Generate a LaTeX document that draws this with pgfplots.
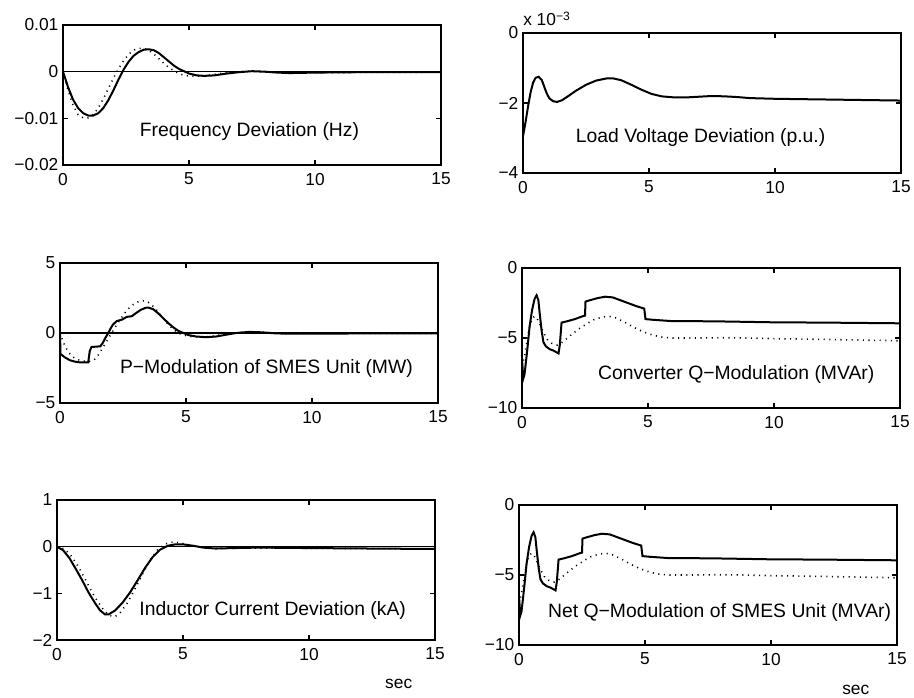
\documentclass[border=0pt]{standalone}
\usepackage{fontspec}
\setmainfont{Liberation Sans}
\usepackage{pgfplots}
\usepackage{pgfplotstable}
\pgfplotsset{compat=1.18}

% converter / net Q-modulation (MVAr), the two right-hand lower panels share them
\pgfplotstableread{
t q
0 -6.5
0.05 -7.9
0.1 -7.6
0.2 -6.0
0.3 -4.2
0.4 -3.0
0.5 -2.2
0.58 -1.95
0.65 -2.3
0.7 -3.2
0.78 -4.5
0.85 -5.3
0.95 -5.6
1.1 -5.8
1.25 -5.9
1.35 -6.0
1.45 -6.1
1.5 -5.5
1.57 -3.9
1.8 -3.8
2.1 -3.65
2.4 -3.45
2.5 -3.4
2.52 -2.4
2.7 -2.3
3.0 -2.15
3.3 -2.05
3.6 -2.1
3.9 -2.3
4.2 -2.5
4.5 -2.7
4.85 -2.9
4.9 -3.65
5.2 -3.7
6 -3.8
7 -3.8
8 -3.82
9 -3.85
10 -3.88
12 -3.9
15 -3.95
}\qsol
\pgfplotstableread{
t q
0 -7.0
0.1 -6.3
0.2 -5.2
0.3 -4.2
0.4 -3.6
0.5 -3.45
0.6 -3.6
0.7 -4.0
0.85 -4.6
1.0 -5.1
1.2 -5.4
1.4 -5.5
1.6 -5.3
1.8 -5.0
2.0 -4.7
2.3 -4.3
2.6 -3.95
2.9 -3.65
3.2 -3.5
3.45 -3.45
3.7 -3.55
4.0 -3.8
4.4 -4.2
4.8 -4.55
5.2 -4.8
5.6 -4.95
6 -5.0
7 -5.0
8 -4.98
9 -5.0
10 -5.05
12 -5.1
15 -5.2
}\qdot

\pgfplotsset{
  panel/.style={
    scale only axis, width=283.5pt, height=105pt,
    anchor=south west,
    xmin=0, xmax=15, xtick={0,5,10,15},
    scaled y ticks=false,
    tick align=inside, major tick length=3.5pt,
    axis line style={line width=1.1pt},
    tick style={line width=0.8pt, black},
    ticklabel style={font=\fontsize{13}{15}\selectfont},
    xticklabel style={yshift=-2.5pt},
    /pgf/number format/assume math mode=true,
    clip=false,
  },
  sol/.style={black, line width=1.5pt},
  dot/.style={black, line width=1.2pt, dash pattern=on 0.8pt off 3.4pt},
  zero/.style={black, line width=0.9pt},
}
\tikzset{
  lab/.style={font=\fontsize{14.5}{16}\selectfont, inner sep=0pt},
  unit/.style={inner sep=0pt, font=\fontsize{13}{15}\selectfont},
}

\begin{document}
\begin{tikzpicture}
\useasboundingbox (0,0) rectangle (685.5pt,522.75pt);

% frequency deviation
\begin{axis}[panel, at={(47.25pt,399pt)},
  ymin=-0.02, ymax=0.01, ytick={-0.02,-0.01,0,0.01},
  yticklabels={−0.02,−0.01,0,0.01}]
\addplot[zero] coordinates {(0,0)(15,0)};
\addplot[dot] coordinates {
  (0,0)(0.2,-0.0040)(0.4,-0.0072)(0.6,-0.0092)(0.8,-0.0099)(1.0,-0.0099)(1.2,-0.0092)(1.4,-0.0078)(1.6,-0.0058)(1.8,-0.0036)(2.0,-0.0014)(2.2,0.0006)(2.4,0.0023)(2.6,0.0037)(2.8,0.0046)(3.0,0.0050)(3.2,0.0050)(3.4,0.0046)(3.6,0.0038)(3.8,0.0028)(4.0,0.0018)(4.2,0.0009)(4.4,0.0002)(4.6,-0.0004)(4.8,-0.0008)(5.2,-0.0010)(5.6,-0.0009)(6.0,-0.0006)(6.5,-0.0002)(7.0,0.0000)(7.5,0.0001)(8.0,0.0000)(9,-0.0002)(10,-0.0002)(15,-0.0001)};
\addplot[sol] coordinates {
  (0,0)(0.2,-0.0033)(0.4,-0.0060)(0.6,-0.0078)(0.8,-0.0089)(1.0,-0.0094)(1.2,-0.0094)(1.4,-0.0089)(1.6,-0.0078)(1.8,-0.0061)(2.0,-0.0040)(2.2,-0.0017)(2.4,0.0004)(2.6,0.0021)(2.8,0.0034)(3.0,0.0042)(3.2,0.0047)(3.4,0.0048)(3.6,0.0046)(3.8,0.0040)(4.0,0.0031)(4.2,0.0022)(4.4,0.0013)(4.6,0.0006)(4.8,0.0001)(5.0,-0.0004)(5.3,-0.0008)(5.6,-0.0009)(6.0,-0.0008)(6.5,-0.0004)(7.0,-0.0001)(7.5,0.0001)(8.0,0.0000)(8.5,-0.0002)(9,-0.0003)(10,-0.0002)(12,-0.0001)(15,-0.0001)};
\node[lab] at (axis cs:7.4,-0.0129) {Frequency Deviation (Hz)};
\end{axis}

% load voltage deviation (x 1e-3)
\begin{axis}[panel, at={(392.25pt,393pt)},
  ymin=-4, ymax=0, ytick={-4,-2,0}, yticklabels={−4,−2,0}]
\addplot[sol] coordinates {
  (0,-2.95)(0.1,-2.55)(0.2,-2.1)(0.3,-1.7)(0.4,-1.42)(0.5,-1.28)(0.62,-1.25)(0.75,-1.35)(0.85,-1.55)(0.95,-1.74)(1.05,-1.87)(1.2,-1.95)(1.35,-1.97)(1.55,-1.92)(1.8,-1.8)(2.1,-1.65)(2.5,-1.48)(2.9,-1.36)(3.3,-1.30)(3.6,-1.30)(3.9,-1.35)(4.3,-1.48)(4.7,-1.62)(5.1,-1.74)(5.5,-1.81)(6.0,-1.84)(6.5,-1.84)(7.0,-1.82)(7.5,-1.80)(8.0,-1.81)(8.5,-1.83)(9.0,-1.86)(10,-1.88)(11,-1.89)(12,-1.9)(13,-1.91)(15,-1.93)};
\node[lab] at (axis cs:7.05,-3.0) {Load Voltage Deviation (p.u.)};
\node[unit, anchor=south west] at (rel axis cs:0,1) [yshift=5pt] {x 10\textsuperscript{−3}};
\end{axis}

% P-modulation
\begin{axis}[panel, at={(45pt,220.5pt)},
  ymin=-5, ymax=5, ytick={-5,0,5}, yticklabels={−5,0,5}]
\addplot[zero] coordinates {(0,0)(15,0)};
\addplot[dot] coordinates {
  (0,0)(0.1,-0.5)(0.2,-0.95)(0.35,-1.4)(0.5,-1.7)(0.7,-1.9)(0.9,-2.0)(1.1,-2.05)(1.3,-2.0)(1.45,-1.75)(1.6,-1.35)(1.8,-0.75)(2.0,-0.15)(2.2,0.45)(2.4,1.0)(2.6,1.5)(2.8,1.9)(3.0,2.15)(3.2,2.3)(3.35,2.3)(3.5,2.2)(3.7,1.9)(3.9,1.5)(4.1,1.05)(4.3,0.6)(4.5,0.25)(4.7,0.0)(4.9,-0.15)(5.2,-0.25)(5.6,-0.3)(6.0,-0.25)(6.5,-0.1)(7,0.02)(7.5,0.08)(8,0.05)(9,-0.03)(15,-0.03)};
\addplot[sol] coordinates {
  (0,0)(0.02,-1.5)(0.2,-1.75)(0.4,-1.95)(0.6,-2.05)(0.8,-2.1)(1.0,-2.1)(1.12,-2.1)(1.18,-1.3)(1.25,-1.0)(1.6,-0.95)(1.7,-0.7)(1.8,-0.35)(1.9,-0.05)(2.0,0.3)(2.1,0.6)(2.25,0.85)(2.45,0.95)(2.55,1.05)(2.65,1.15)(2.85,1.2)(3.0,1.4)(3.2,1.65)(3.4,1.8)(3.5,1.82)(3.7,1.7)(3.9,1.4)(4.1,1.05)(4.3,0.7)(4.5,0.4)(4.7,0.15)(4.9,0.0)(5.1,-0.15)(5.4,-0.25)(5.8,-0.3)(6.2,-0.25)(6.6,-0.12)(7.0,0.0)(7.5,0.08)(8.0,0.05)(8.5,-0.02)(9,-0.05)(10,-0.05)(12,-0.03)(15,-0.03)};
\node[lab] at (axis cs:8.19,-2.52) {P−Modulation of SMES Unit (MW)};
\end{axis}

% converter Q-modulation
\begin{axis}[panel, at={(391.5pt,216.75pt)},
  ymin=-10, ymax=0, ytick={-10,-5,0}, yticklabels={−10,−5,0}]
\addplot[dot] table[x=t,y=q] {\qdot};
\addplot[sol] table[x=t,y=q] {\qsol};
\node[lab] at (axis cs:8.5,-7.6) {Converter Q−Modulation (MVAr)};
\end{axis}

% inductor current deviation
\begin{axis}[panel, at={(42.75pt,42.75pt)},
  ymin=-2, ymax=1, ytick={-2,-1,0,1}, yticklabels={−2,−1,0,1}]
\addplot[zero] coordinates {(0,0)(15,0)};
\addplot[dot] coordinates {
  (0,0)(0.3,-0.05)(0.6,-0.22)(0.9,-0.48)(1.2,-0.78)(1.5,-1.08)(1.8,-1.32)(2.05,-1.47)(2.3,-1.5)(2.5,-1.42)(2.8,-1.2)(3.1,-0.9)(3.4,-0.58)(3.7,-0.28)(4.0,-0.06)(4.3,0.06)(4.6,0.1)(4.9,0.08)(5.3,0.03)(5.8,-0.02)(6.5,-0.04)(7.5,-0.03)(9,-0.03)(15,-0.05)};
\addplot[sol] coordinates {
  (0,0)(0.25,-0.08)(0.5,-0.25)(0.75,-0.48)(1.0,-0.72)(1.25,-0.98)(1.5,-1.2)(1.7,-1.36)(1.9,-1.45)(2.05,-1.45)(2.3,-1.37)(2.6,-1.2)(2.9,-0.98)(3.2,-0.72)(3.5,-0.45)(3.8,-0.22)(4.1,-0.06)(4.4,0.02)(4.7,0.05)(5.0,0.05)(5.4,0.02)(5.8,-0.02)(6.3,-0.04)(7,-0.03)(8,-0.02)(10,-0.03)(15,-0.05)};
\node[lab] at (axis cs:8.56,-1.36) {Inductor Current Deviation (kA)};
\node[unit, anchor=base] at (rel axis cs:0.904,0) [yshift=-36pt] {sec};
\end{axis}

% net Q-modulation
\begin{axis}[panel, at={(389.25pt,39pt)},
  ymin=-10, ymax=0, ytick={-10,-5,0}, yticklabels={−10,−5,0}]
\addplot[dot] table[x=t,y=q] {\qdot};
\addplot[sol] table[x=t,y=q] {\qsol};
\node[lab] at (axis cs:7.96,-7.7) {Net Q−Modulation of SMES Unit (MVAr)};
\node[unit, anchor=base] at (rel axis cs:0.891,0) [yshift=-37pt] {sec};
\end{axis}
\end{tikzpicture}
\end{document}
